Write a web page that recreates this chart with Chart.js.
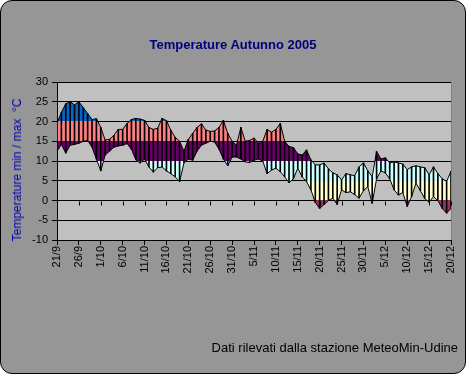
<!DOCTYPE html>
<html>
<head>
<meta charset="utf-8">
<script src="https://cdn.jsdelivr.net/npm/chart.js@4.4.1/dist/chart.umd.min.js"></script>
<style>
  html, body { margin: 0; padding: 0; background: #fff; }
  #frame {
    position: absolute; left: 0; top: 0;
    width: 464px; height: 372px;
    border: 1px solid #000; border-radius: 12px;
    background: #969696; overflow: hidden;
  }
  #chart { position: absolute; left: 0; top: 0; }
  .txt { position: absolute; font-family: 'Liberation Sans', Arial, sans-serif; white-space: nowrap; }
  #title { left: 0; width: 466px; top: 37px; text-align: center; font-weight: bold; font-size: 13px; color: #000080; }
  #note { right: 8px; top: 340px; font-size: 13px; color: #000; }
  #ytitle { left: 17px; top: 170px; font-size: 12px; color: #0000B0; transform: translate(-50%, -50%) rotate(-90deg); }
</style>
</head>
<body>
<div id="frame"></div>
<canvas id="chart" width="466" height="374" style="width:466px;height:374px"></canvas>
<div class="txt" id="title">Temperature Autunno 2005</div>
<div class="txt" id="ytitle">Temperature min / max &nbsp;°C</div>
<div class="txt" id="note">Dati rilevati dalla stazione MeteoMin-Udine</div>
<script>
// days from 21/9 to 20/12
const days = [
  '21/9','22/9','23/9','24/9','25/9','26/9','27/9','28/9','29/9','30/9',
  '1/10','2/10','3/10','4/10','5/10','6/10','7/10','8/10','9/10','10/10',
  '11/10','12/10','13/10','14/10','15/10','16/10','17/10','18/10','19/10','20/10',
  '21/10','22/10','23/10','24/10','25/10','26/10','27/10','28/10','29/10','30/10','31/10',
  '1/11','2/11','3/11','4/11','5/11','6/11','7/11','8/11','9/11','10/11',
  '11/11','12/11','13/11','14/11','15/11','16/11','17/11','18/11','19/11','20/11',
  '21/11','22/11','23/11','24/11','25/11','26/11','27/11','28/11','29/11','30/11',
  '1/12','2/12','3/12','4/12','5/12','6/12','7/12','8/12','9/12','10/12',
  '11/12','12/12','13/12','14/12','15/12','16/12','17/12','18/12','19/12','20/12'
];

// daily max / min temperatures (°C)
const tMax = [
  19.5, 22.3, 24.5, 25, 24.2, 25, 23.5, 22, 20.5, 20.7,
  18.5, 15.3, 15.5, 16.5, 18, 18, 19.5, 20.5, 20.8, 20.6,
  20.3, 18.5, 18, 18.3, 20.8, 20.2, 17.8, 16, 15, 12.5,
  15.5, 17, 18.5, 19.4, 17.8, 17.5, 17.6, 18.5, 20.3, 17,
  15, 14, 18.5, 15, 15.2, 15.8, 14.5, 15, 18, 17.3,
  18, 19.5, 15, 13.7, 13.4, 11.8, 11.5, 12.8, 10.3, 9,
  9, 9.5, 8, 7, 6.5, 5.2, 6.8, 6.5, 6.3, 8.5,
  9.5, 7.5, 6, 12.4, 10.5, 10.8, 9.5, 9.8, 9.5, 9.2,
  7.8, 8.5, 8.8, 8.5, 8.3, 6.5, 8.5, 6.8, 5.5, 4.8,
  7.4
];
const tMin = [
  12.5, 14.2, 12, 14, 14.2, 14.5, 15, 15.2, 13.5, 10.5,
  7.5, 11.5, 12.5, 13.5, 13.8, 14, 14.4, 13, 10.3, 9.5,
  10.5, 8.5, 7.2, 8.3, 8.5, 7.5, 6.8, 6, 4.8, 9.5,
  10.5, 10.2, 12.5, 14, 14.5, 15, 14.8, 13, 10.5, 8.8,
  11, 11, 10.5, 9.8, 9.6, 10.2, 10.5, 10, 6.8, 7.7,
  8.2, 7.3, 6, 4.5, 5.5, 8.2, 6, 4.8, 2.7, -0.5,
  -2, -1, 0, 0.6, -1, 2.7, 2, 2.2, 1.5, 0.6,
  2.5, 3.5, -0.7, 5.5, 7.5, 7, 5.5, 2.7, 1.4, 2,
  -1.5, 1, 4.4, 2.5, 0.5, -0.4, 1, 0, -2, -3.2,
  -2
];

// temperature bands used to colour the area between min and max
const bandLimits = [20, 15, 10, 5, 0];
const bandColors = ['#0066CC', '#FF8080', '#660066', '#CCFFFF', '#FFFFCC', '#993366'];

function bandGradient(chart) {
  const { ctx, chartArea, scales } = chart;
  const y = scales.y;
  const h = chartArea.bottom - chartArea.top;
  const g = ctx.createLinearGradient(0, chartArea.top, 0, chartArea.bottom);
  let prev = 0;
  bandLimits.forEach((lim, i) => {
    const f = Math.min(1, Math.max(0, (y.getPixelForValue(lim) - chartArea.top) / h));
    g.addColorStop(prev, bandColors[i]);
    g.addColorStop(f, bandColors[i]);
    prev = f;
  });
  const last = bandColors[bandColors.length - 1];
  g.addColorStop(prev, last);
  g.addColorStop(1, last);
  return g;
}

// silver plot area
const plotBg = {
  id: 'plotBg',
  beforeDraw(chart) {
    const { ctx, chartArea: a } = chart;
    ctx.save();
    ctx.fillStyle = '#c0c0c0';
    ctx.fillRect(a.left, a.top, a.right - a.left, a.bottom - a.top);
    ctx.strokeStyle = '#808080';
    ctx.lineWidth = 1;
    ctx.strokeRect(a.left + 0.5, a.top + 0.5, a.right - a.left, a.bottom - a.top);
    ctx.restore();
  }
};

// category axis crosses at 0: little tick marks under the zero line
const zeroTicks = {
  id: 'zeroTicks',
  afterDraw(chart) {
    const { ctx, scales: { x, y } } = chart;
    const y0 = Math.round(y.getPixelForValue(0)) + 0.5;
    ctx.save();
    ctx.strokeStyle = '#000';
    ctx.lineWidth = 1;
    ctx.beginPath();
    days.forEach((d, i) => {
      if (i % 5) return;
      const px = Math.round(x.getPixelForValue(i)) + 0.5;
      ctx.moveTo(px, y0);
      ctx.lineTo(px, y0 + 4);
    });
    ctx.stroke();
    ctx.restore();
  }
};

Chart.defaults.font.family = "'Liberation Sans', Arial, sans-serif";
Chart.defaults.color = '#000';

new Chart(document.getElementById('chart'), {
  type: 'line',
  data: {
    labels: days,
    datasets: [
      {
        label: 'max',
        data: tMax,
        borderColor: '#000',
        borderWidth: 1,
        pointRadius: 0,
        tension: 0,
        fill: '+1',
        backgroundColor: (c) => c.chart.chartArea ? bandGradient(c.chart) : '#FF8080',
        order: 2
      },
      {
        label: 'min',
        data: tMin,
        borderColor: '#000',
        borderWidth: 1,
        pointRadius: 0,
        tension: 0,
        fill: false,
        order: 1
      },
      {
        type: 'bar',
        label: 'range',
        data: tMin.map((v, i) => [v, tMax[i]]),
        backgroundColor: '#000',
        borderWidth: 0,
        barThickness: 1,
        order: 0
      }
    ]
  },
  options: {
    responsive: false,
    animation: false,
    events: [],
    layout: { padding: { top: 82, left: 10, right: 15, bottom: 94 } },
    plugins: { legend: { display: false }, tooltip: { enabled: false } },
    scales: {
      x: {
        type: 'category',
        offset: false,
        grid: {
          offset: false,
          drawOnChartArea: false,
          tickLength: 5,
          color: (c) => (c.index % 5 === 0 ? '#000' : 'rgba(0,0,0,0)')
        },
        border: { color: '#000' },
        ticks: {
          autoSkip: false,
          minRotation: 90,
          maxRotation: 90,
          padding: 1,
          font: { size: 11 },
          callback: function (v, i) { return i % 5 === 0 ? this.getLabelForValue(v) : ''; }
        },
        afterFit(s) { s.height = 40; s.paddingLeft = 0; s.paddingRight = 0; }
      },
      y: {
        min: -10,
        max: 30,
        z: 1,
        grid: { color: '#000', tickLength: 5 },
        border: { color: '#000' },
        ticks: { stepSize: 5, padding: 4, font: { size: 11 } },
        afterFit(s) { s.width = 47; s.paddingTop = 0; s.paddingBottom = 0; }
      }
    }
  },
  plugins: [plotBg, zeroTicks]
});
</script>
</body>
</html>
